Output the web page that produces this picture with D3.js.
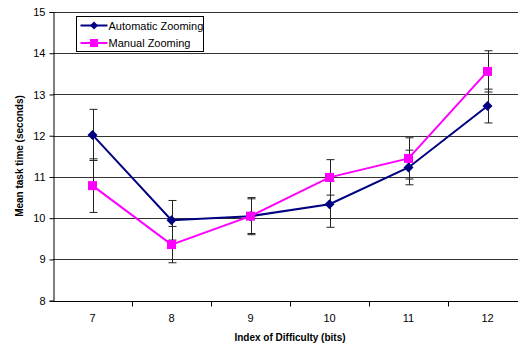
<!DOCTYPE html>
<html>
<head>
<meta charset="utf-8">
<script src="https://cdn.jsdelivr.net/npm/d3@7"></script>
<style>
  body { margin: 0; background: #fff; }
  svg { display: block; font-family: Arial, "Liberation Sans", sans-serif; }
</style>
</head>
<body>
<svg id="chart"></svg>
<script>
// data
const categories = [7, 8, 9, 10, 11, 12];
const autoMeans = [12.02, 9.95, 10.05, 10.34, 11.23, 12.72];
const autoErr = [0.62, 0.48, 0.45, 0.56, 0.42, 0.41];
const manualMeans = [10.79, 9.36, 10.05, 10.99, 11.45, 13.56];
const manualErr = [0.65, 0.44, 0.42, 0.43, 0.5, 0.5];
const yTicks = [8, 9, 10, 11, 12, 13, 14, 15];

const width = 518;
const height = 348;
const margin = { top: 12, left: 53 };
const plotRight = 527;
const plotBottom = 300.7;

const svg = d3.select('#chart')
  .attr('width', width)
  .attr('height', height);

const x = d3.scaleBand()
  .domain(categories)
  .range([margin.left, plotRight]);

const y = d3.scaleLinear()
  .domain([8, 15])
  .range([plotBottom, margin.top]);

// gridlines
svg.append('g')
  .selectAll('line')
  .data(yTicks.slice(1))
  .enter()
  .append('line')
  .attr('x1', margin.left)
  .attr('x2', width)
  .attr('y1', d => Math.round(y(d)) + 0.5)
  .attr('y2', d => Math.round(y(d)) + 0.5)
  .attr('stroke', '#333')
  .attr('stroke-width', 1);

// axes
const yAxis = d3.axisLeft(y)
  .tickValues(yTicks)
  .tickFormat(d3.format('d'))
  .tickSize(4)
  .tickPadding(4);
svg.append('g')
  .attr('transform', `translate(${margin.left + 0.5}, 0)`)
  .call(yAxis)
  .call(g => g.select('.domain').attr('stroke', '#000'))
  .call(g => g.selectAll('text').attr('font-size', 11).attr('fill', '#000'));

svg.append('g')
  .attr('transform', `translate(0, ${Math.round(plotBottom) + 0.5})`)
  .call(g => g.append('line')
    .attr('x1', margin.left).attr('x2', width)
    .attr('stroke', '#000'))
  .call(g => g.selectAll('.tk')
    .data(categories.slice(1))
    .enter()
    .append('line')
    .attr('x1', d => Math.round(x(d)) + 0.5)
    .attr('x2', d => Math.round(x(d)) + 0.5)
    .attr('y1', 0)
    .attr('y2', 5)
    .attr('stroke', '#000'))
  .call(g => g.selectAll('text')
    .data(categories)
    .enter()
    .append('text')
    .attr('x', d => x(d) + x.bandwidth() / 2)
    .attr('y', 20)
    .attr('text-anchor', 'middle')
    .attr('font-size', 11)
    .text(d => d));

// axis titles
svg.append('text')
  .attr('x', 290)
  .attr('y', 341)
  .attr('text-anchor', 'middle')
  .attr('font-size', 10)
  .attr('font-weight', 'bold')
  .text('Index of Difficulty (bits)');

svg.append('text')
  .attr('transform', `translate(23, 156) rotate(-90)`)
  .attr('text-anchor', 'middle')
  .attr('font-size', 10)
  .attr('font-weight', 'bold')
  .text('Mean task time (seconds)');

const cx = d => x(d) + x.bandwidth() / 2;

// error bars
function errorBars(means, errs) {
  const g = svg.append('g').attr('stroke', '#222').attr('stroke-width', 1);
  categories.forEach((c, i) => {
    const px = Math.round(cx(c)) + 0.5;
    const hi = y(means[i] + errs[i]);
    const lo = y(means[i] - errs[i]);
    g.append('line').attr('x1', px).attr('x2', px).attr('y1', hi).attr('y2', lo);
    g.append('line').attr('x1', px - 4).attr('x2', px + 4).attr('y1', hi).attr('y2', hi);
    g.append('line').attr('x1', px - 4).attr('x2', px + 4).attr('y1', lo).attr('y2', lo);
  });
}
errorBars(autoMeans, autoErr);
errorBars(manualMeans, manualErr);

const line = d3.line()
  .x((d, i) => cx(categories[i]))
  .y(d => y(d));

// automatic series
svg.append('path')
  .datum(autoMeans)
  .attr('d', line)
  .attr('fill', 'none')
  .attr('stroke', '#000080')
  .attr('stroke-width', 2);

// manual series
svg.append('path')
  .datum(manualMeans)
  .attr('d', line)
  .attr('fill', 'none')
  .attr('stroke', '#FF00FF')
  .attr('stroke-width', 2);

svg.append('g')
  .selectAll('path')
  .data(autoMeans)
  .enter()
  .append('path')
  .attr('transform', (d, i) => `translate(${cx(categories[i])}, ${y(d)})`)
  .attr('d', 'M0,-5L5,0L0,5L-5,0Z')
  .attr('fill', '#000080');

svg.append('g')
  .selectAll('rect')
  .data(manualMeans)
  .enter()
  .append('rect')
  .attr('x', (d, i) => cx(categories[i]) - 4.5)
  .attr('y', d => y(d) - 4.5)
  .attr('width', 9)
  .attr('height', 9)
  .attr('fill', '#FF00FF');

// legend
const legend = svg.append('g').attr('transform', 'translate(76.5, 16.5)');
legend.append('rect')
  .attr('width', 127)
  .attr('height', 35)
  .attr('fill', '#fff')
  .attr('stroke', '#000');

const legendItems = [
  { label: 'Automatic Zooming', color: '#000080', shape: 'diamond' },
  { label: 'Manual Zooming', color: '#FF00FF', shape: 'square' }
];

legendItems.forEach((item, i) => {
  const row = legend.append('g').attr('transform', `translate(0, ${9 + i * 17.5})`);
  row.append('line')
    .attr('x1', 4).attr('x2', 31)
    .attr('stroke', item.color)
    .attr('stroke-width', 2);
  if (item.shape === 'diamond') {
    row.append('path')
      .attr('transform', 'translate(17.5, 0)')
      .attr('d', 'M0,-4L4,0L0,4L-4,0Z')
      .attr('fill', item.color);
  } else {
    row.append('rect')
      .attr('x', 13.5).attr('y', -4)
      .attr('width', 8).attr('height', 8)
      .attr('fill', item.color);
  }
  row.append('text')
    .attr('x', 32)
    .attr('y', 4)
    .attr('font-size', 11)
    .text(item.label);
});
</script>
</body>
</html>
